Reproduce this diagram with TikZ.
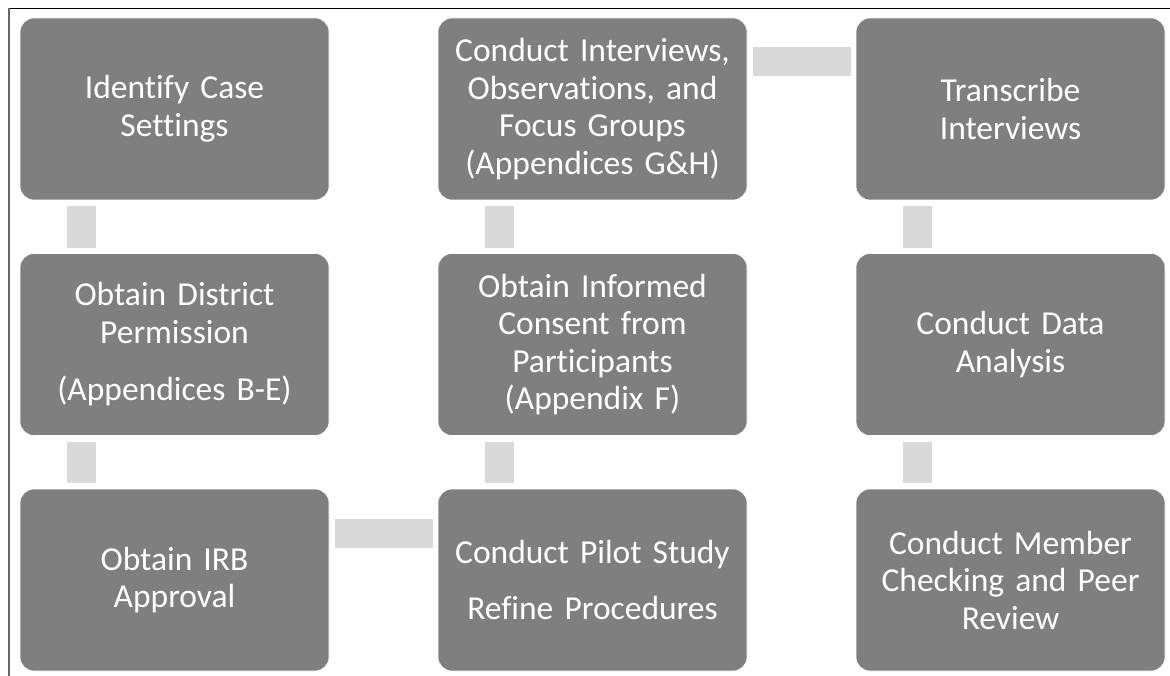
\documentclass[tikz,border=0pt]{standalone}
\usepackage{fontspec}
\setmainfont{Carlito}[Ligatures={NoCommon}]
\usetikzlibrary{calc}
\definecolor{boxgray}{RGB}{127,127,127}
\definecolor{conngray}{RGB}{217,217,217}
\tikzset{
  stepbox/.style={rectangle, rounded corners=14pt, fill=boxgray, draw=white, line width=0.6pt,
    minimum width=309pt, minimum height=182pt, text=white, align=center, text width=305pt,
    font=\fontsize{33.5}{37.5}\selectfont, inner sep=0pt},
  conn/.style={fill=conngray}
}
\begin{document}
\begin{tikzpicture}[x=1pt,y=-1pt]
\useasboundingbox (0,0) rectangle (1170,676);
\fill[white] (0,0) rectangle (1170,676);
\draw[black, line width=1pt] (8,8.3) -- (1170,8.3);
\draw[black!60, line width=1.2pt] (9,8.3) -- (9,676);
% boxes
\node[stepbox] (a) at (174.5,109) {Identify Case\\Settings};
\node[stepbox] (b) at (174.5,344.5) {Obtain District\\Permission\\[20pt](Appendices B-E)};
\node[stepbox] (c) at (174.5,580) {Obtain IRB\\Approval};
\node[stepbox] (d) at (592.5,580) {Conduct Pilot Study\\[18pt]Refine Procedures};
\node[stepbox] (e) at (592.5,344.5) {Obtain Informed\\Consent from\\Participants\\(Appendix F)};
\node[stepbox] (f) at (592.5,109) {Conduct Interviews,\\Observations, and\\Focus Groups\\(Appendices G\&H)};
\node[stepbox] (g) at (1010.5,109) {Transcribe\\Interviews};
\node[stepbox] (h) at (1010.5,344.5) {Conduct Data\\Analysis};
\node[stepbox] (i) at (1010.5,580) {Conduct Member\\Checking and Peer\\Review};
% connectors
\fill[conn] ($(a.south west)+(47,6)$) rectangle ($(b.north west)+(76,-5)$);
\fill[conn] ($(b.south west)+(47,6)$) rectangle ($(c.north west)+(76,-6)$);
\fill[conn] ($(c.north east)+(6,30)$) rectangle ($(d.north west)+(-5,59)$);
\fill[conn] ($(d.north west)+(47,-6)$) rectangle ($(e.south west)+(76,6)$);
\fill[conn] ($(e.north west)+(47,-5)$) rectangle ($(f.south west)+(76,6)$);
\fill[conn] ($(f.north east)+(6,29)$) rectangle ($(g.north west)+(-5,58)$);
\fill[conn] ($(g.south west)+(47,6)$) rectangle ($(h.north west)+(76,-5)$);
\fill[conn] ($(h.south west)+(47,6)$) rectangle ($(i.north west)+(76,-6)$);
\end{tikzpicture}
\end{document}
